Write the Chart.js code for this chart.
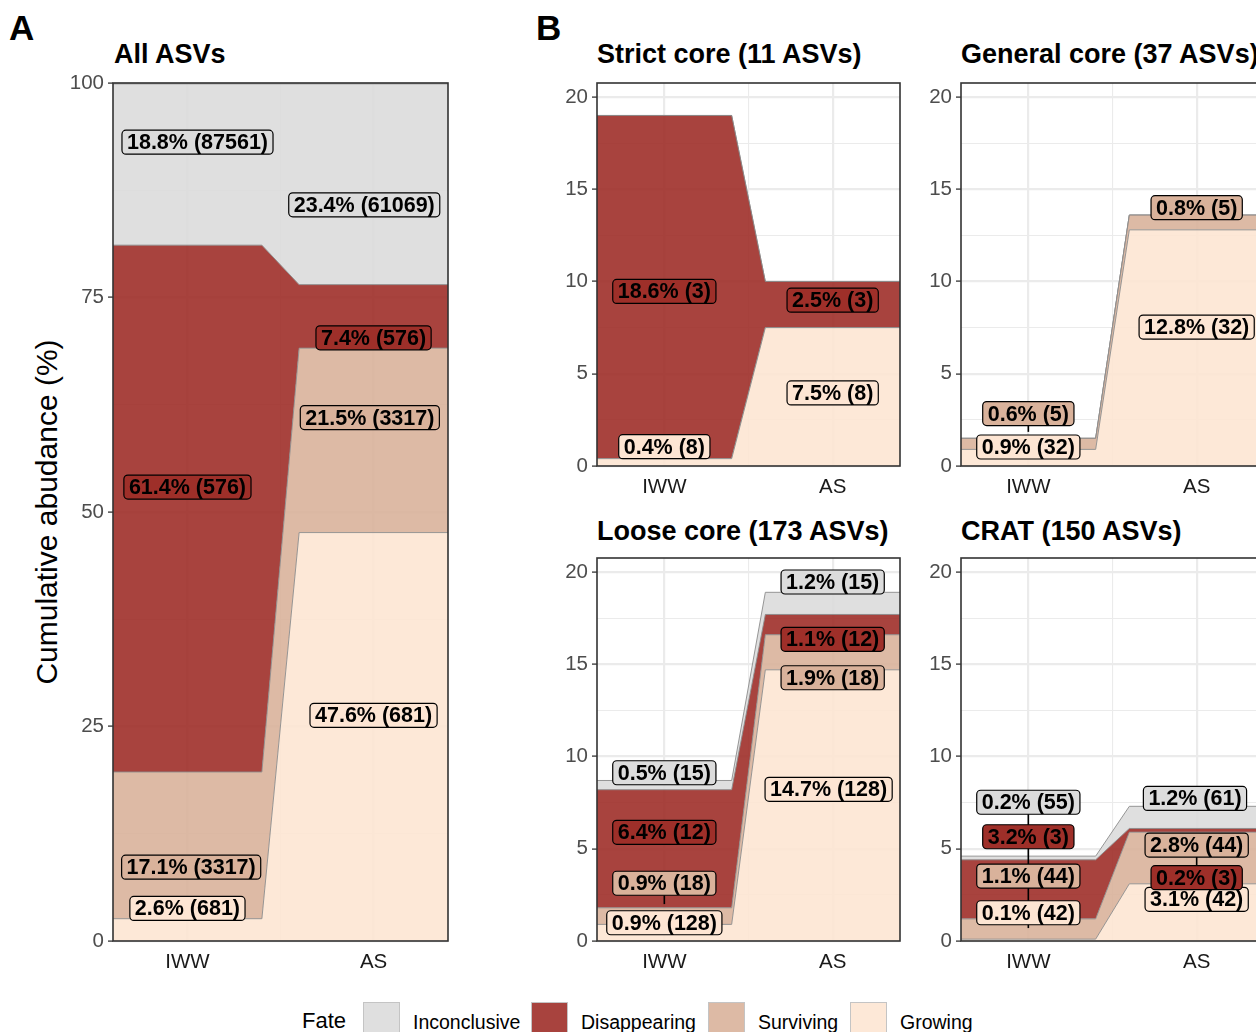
<!DOCTYPE html>
<html>
<head>
<meta charset="utf-8">
<title>ASV fate</title>
<script src="https://cdn.jsdelivr.net/npm/chart.js@4.4.1/dist/chart.umd.min.js"></script>
<style>
  html, body { margin: 0; padding: 0; background: #fff; overflow: hidden; width: 1256px; height: 1032px; }
  body { position: relative; font-family: "Liberation Sans", Arial, sans-serif; color: #000; }
  canvas { position: absolute; }
  .txt { position: absolute; white-space: nowrap; }
  .tag { font-size: 35px; line-height: 35px; font-weight: bold; }
  .ttl { font-size: 27px; line-height: 27px; font-weight: bold; }
  .ytitle { font-size: 30px; line-height: 30px; transform: translate(-50%, -50%) rotate(-90deg); }
  .lgtitle { font-size: 22px; line-height: 22px; }
  .lglab { font-size: 19.5px; line-height: 19.5px; }
  .key { position: absolute; width: 37px; height: 38px; box-sizing: border-box; border: 1px solid #c4c4c4; }
</style>
</head>
<body>
<div class="txt tag" style="left:9px;top:10px">A</div>
<div class="txt tag" style="left:536px;top:10px">B</div>
<div class="txt ttl" style="left:114px;top:41px">All ASVs</div>
<div class="txt ttl" style="left:597px;top:41px">Strict core (11 ASVs)</div>
<div class="txt ttl" style="left:961px;top:41px">General core (37 ASVs)</div>
<div class="txt ttl" style="left:597px;top:518px">Loose core (173 ASVs)</div>
<div class="txt ttl" style="left:961px;top:518px">CRAT (150 ASVs)</div>
<div class="txt ytitle" style="left:47px;top:512px">Cumulative abudance (%)</div>
<div id="legend"></div>

<script>
// ---- data ----
const categories = ['IWW', 'AS'];
const fates = ['Growing', 'Surviving', 'Disappearing', 'Inconclusive'];   // stacking order, bottom -> top
const legendOrder = ['Inconclusive', 'Disappearing', 'Surviving', 'Growing'];
const fateColors = ['#FDE5D3', '#D9B29B', '#9E2F29', '#DCDCDC'];

// percentages [IWW, AS] per fate (fates order)
const allPct     = [[2.6, 47.6], [17.1, 21.5], [61.4, 7.4], [18.8, 23.4]];
const allN       = [[681, 681], [3317, 3317], [576, 576], [87561, 61069]];
const strictPct  = [[0.4, 7.5], [0, 0], [18.6, 2.5], [0, 0]];
const strictN    = [[8, 8], [0, 0], [3, 3], [0, 0]];
const generalPct = [[0.9, 12.8], [0.6, 0.8], [0, 0], [0, 0]];
const generalN   = [[32, 32], [5, 5], [0, 0], [0, 0]];
const loosePct   = [[0.9, 14.7], [0.9, 1.9], [6.4, 1.1], [0.5, 1.2]];
const looseN     = [[128, 128], [18, 18], [12, 12], [15, 15]];
const cratPct    = [[0.1, 3.1], [1.1, 2.8], [3.2, 0.2], [0.2, 1.2]];
const cratN      = [[42, 42], [44, 44], [3, 3], [55, 61]];

// repelled label anchors (data units), null = no label
const allLabX     = [[1.0, 2.0], [1.02, 1.98], [1.0, 2.0], [1.054, 1.95]];
const allLabY     = [[3.8, 26.3], [8.6, 61.0], [52.9, 70.3], [93.1, 85.8]];
const strictLabX  = [[1, 2], [1, 2], [1, 2], [1, 2]];
const strictLabY  = [[1.05, 3.96], [null, null], [9.46, 8.99], [null, null]];
const generalLabX = [[1, 2], [1, 2], [1, 2], [1, 2]];
const generalLabY = [[1.03, 7.53], [2.84, 14.0], [null, null], [null, null]];
const looseLabX   = [[1, 1.976], [1, 2], [1, 2], [1, 2]];
const looseLabY   = [[0.99, 8.22], [3.13, 14.27], [5.89, 16.35], [9.12, 19.46]];
const cratLabX    = [[1, 2], [1, 2], [1, 2], [1, 1.99]];
const cratLabY    = [[1.53, 2.26], [3.52, 5.2], [5.65, 3.43], [7.52, 7.73]];

// labels joined to their area by a leader segment: [fate, category]
const generalSegs = [[1, 0]];
const looseSegs   = [[1, 0]];
const cratSegs    = [[0, 0], [1, 0], [2, 0], [3, 0], [2, 1]];

const xTicks = [1, 1.5, 2];
const yTicksAll = [0, 12.5, 25, 37.5, 50, 62.5, 75, 87.5, 100];
const yLabelsAll = [0, 25, 50, 75, 100];
const yTicksCore = [0, 2.5, 5, 7.5, 10, 12.5, 15, 17.5, 20];
const yLabelsCore = [0, 5, 10, 15, 20];

// ---- look ----
const FONT = '"Liberation Sans", Arial, sans-serif';
const AREA_ALPHA = 0.9;
const HALF = 0.4;          // half width of the flat step around each category
const GRID = '#ebebeb';
const Y_W = 56, X_H = 40, PAD_T = 18, PAD_R = 4;

function rgba(hex, a) {
  const n = parseInt(hex.slice(1), 16);
  return `rgba(${n >> 16},${(n >> 8) & 255},${n & 255},${a})`;
}

function roundBox(ctx, x, y, w, h, r) {
  ctx.beginPath();
  ctx.moveTo(x + r, y);
  ctx.arcTo(x + w, y, x + w, y + h, r);
  ctx.arcTo(x + w, y + h, x, y + h, r);
  ctx.arcTo(x, y + h, x, y, r);
  ctx.arcTo(x, y, x + w, y, r);
  ctx.closePath();
}

function labelPlugin(p) {
  return {
    id: 'boxLabels',
    afterDatasetsDraw(chart) {
      const ctx = chart.ctx, sx = chart.scales.x, sy = chart.scales.y;
      ctx.save();
      // leader segments first, boxes hide their ends
      p.segs.forEach(([i, j]) => {
        let below = 0;
        for (let k = 0; k < i; k++) below += p.pct[k][j];
        const mid = below + p.pct[i][j] / 2;
        const x0 = sx.getPixelForValue(p.labX[i][j]), y0 = sy.getPixelForValue(p.labY[i][j]);
        const x1 = sx.getPixelForValue(j + 1), y1 = sy.getPixelForValue(mid);
        const d = Math.hypot(x1 - x0, y1 - y0), k = d > 12 ? (d - 12) / d : 0;
        ctx.beginPath();
        ctx.moveTo(x0, y0);
        ctx.lineTo(x0 + (x1 - x0) * k, y0 + (y1 - y0) * k);
        ctx.lineWidth = 1.6;
        ctx.strokeStyle = '#000';
        ctx.stroke();
      });
      ctx.font = `bold 21.5px ${FONT}`;
      ctx.textAlign = 'center';
      ctx.textBaseline = 'middle';
      fates.forEach((f, i) => {
        categories.forEach((c, j) => {
          if (p.labY[i][j] == null) return;
          const txt = `${p.pct[i][j].toFixed(1)}% (${p.n[i][j]})`;
          const cx = sx.getPixelForValue(p.labX[i][j]);
          const cy = sy.getPixelForValue(p.labY[i][j]);
          const w = ctx.measureText(txt).width + 10, h = 24;
          roundBox(ctx, cx - w / 2, cy - h / 2, w, h, 4);
          ctx.fillStyle = fateColors[i];
          ctx.fill();
          ctx.lineWidth = 1.2;
          ctx.strokeStyle = '#000';
          ctx.stroke();
          ctx.fillStyle = '#000';
          ctx.fillText(txt, cx, cy + 1);
        });
      });
      ctx.restore();
    },
    afterDraw(chart) {
      const a = chart.chartArea, ctx = chart.ctx;
      ctx.save();
      ctx.strokeStyle = '#333333';
      ctx.lineWidth = 1.6;
      ctx.strokeRect(a.left, a.top, a.right - a.left, a.bottom - a.top);
      ctx.restore();
    }
  };
}

function makePanel(p) {
  const cv = document.createElement('canvas');
  const w = Y_W + (p.right - p.left) + PAD_R;
  const h = PAD_T + (p.bottom - p.top) + X_H;
  cv.width = w; cv.height = h;
  cv.style.left = (p.left - Y_W) + 'px';
  cv.style.top = (p.top - PAD_T) + 'px';
  document.body.appendChild(cv);

  const datasets = fates.map((f, i) => ({
    label: f,
    data: categories.flatMap((c, j) => [
      { x: j + 1 - HALF, y: p.pct[i][j] },
      { x: j + 1 + HALF, y: p.pct[i][j] }
    ]),
    backgroundColor: rgba(fateColors[i], AREA_ALPHA),
    borderColor: 'rgba(140,140,140,0.9)',
    borderWidth: 1,
    fill: i === 0 ? 'origin' : '-1',
    pointRadius: 0,
    tension: 0
  }));

  new Chart(cv, {
    type: 'line',
    data: { datasets },
    options: {
      responsive: false,
      animation: false,
      events: [],
      layout: { padding: { top: PAD_T, right: PAD_R, left: 0, bottom: 0 }, autoPadding: false },
      plugins: { legend: { display: false }, tooltip: { enabled: false } },
      scales: {
        x: {
          type: 'linear', min: 1 - HALF, max: categories.length + HALF,
          afterBuildTicks: s => { s.ticks = xTicks.map(v => ({ value: v })); },
          afterFit: s => { s.height = X_H; },
          border: { display: false },
          grid: {
            color: GRID,
            lineWidth: c => (c.tick && Number.isInteger(c.tick.value)) ? 2.2 : 1.1,
            drawTicks: false
          },
          ticks: {
            autoSkip: false, maxRotation: 0, padding: 9, color: '#1a1a1a',
            font: { family: FONT, size: 20.5 },
            callback: v => Number.isInteger(v) ? categories[v - 1] : ''
          }
        },
        y: {
          type: 'linear', stacked: true, min: 0, max: p.yMax,
          afterBuildTicks: s => { s.ticks = p.yTicks.map(v => ({ value: v })); },
          afterFit: s => { s.width = Y_W; },
          border: { display: false },
          grid: {
            color: GRID,
            lineWidth: c => (c.tick && p.yLabels.includes(c.tick.value)) ? 2.2 : 1.1,
            tickLength: 5,
            tickWidth: 1.3,
            tickColor: c => (c.tick && p.yLabels.includes(c.tick.value)) ? '#333333' : 'rgba(0,0,0,0)'
          },
          ticks: {
            autoSkip: false, padding: 4, color: '#4d4d4d',
            font: { family: FONT, size: 20.5 },
            callback: v => p.yLabels.includes(v) ? String(v) : ''
          }
        }
      }
    },
    plugins: [labelPlugin(p)]
  });
}

const CORE_MAX = 20.76;
const panels = [
  { left: 113, top: 83, right: 448, bottom: 941, yMax: 100, yTicks: yTicksAll, yLabels: yLabelsAll,
    pct: allPct, n: allN, labX: allLabX, labY: allLabY, segs: [] },
  { left: 597, top: 83, right: 900, bottom: 466, yMax: CORE_MAX, yTicks: yTicksCore, yLabels: yLabelsCore,
    pct: strictPct, n: strictN, labX: strictLabX, labY: strictLabY, segs: [] },
  { left: 961, top: 83, right: 1264, bottom: 466, yMax: CORE_MAX, yTicks: yTicksCore, yLabels: yLabelsCore,
    pct: generalPct, n: generalN, labX: generalLabX, labY: generalLabY, segs: generalSegs },
  { left: 597, top: 558, right: 900, bottom: 941, yMax: CORE_MAX, yTicks: yTicksCore, yLabels: yLabelsCore,
    pct: loosePct, n: looseN, labX: looseLabX, labY: looseLabY, segs: looseSegs },
  { left: 961, top: 558, right: 1264, bottom: 941, yMax: CORE_MAX, yTicks: yTicksCore, yLabels: yLabelsCore,
    pct: cratPct, n: cratN, labX: cratLabX, labY: cratLabY, segs: cratSegs }
];
panels.forEach(makePanel);

// legend along the bottom
const legend = document.getElementById('legend');
const keyLeft = [363, 531, 708, 850];
legend.innerHTML = '<div class="txt lgtitle" style="left:302px;top:1010px">Fate</div>' +
  legendOrder.map((f, k) => {
    const col = fateColors[fates.indexOf(f)];
    return `<div class="key" style="left:${keyLeft[k]}px;top:1002px;background:${rgba(col, AREA_ALPHA)}"></div>` +
      `<div class="txt lglab" style="left:${keyLeft[k] + 50}px;top:1012.5px">${f}</div>`;
  }).join('');
</script>
</body>
</html>
